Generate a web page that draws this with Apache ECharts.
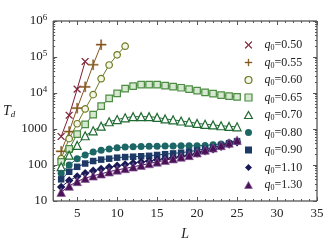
<!DOCTYPE html>
<html>
<head>
<meta charset="utf-8">
<script src="https://cdn.jsdelivr.net/npm/echarts@6/dist/echarts.min.js"></script>
<style>
html,body{margin:0;padding:0;background:#fff;}
#c{width:334px;height:246px;}
</style>
</head>
<body>
<div id="c"></div>
<script>
// ---- data ----
const L_050 = [3, 4, 5, 6];
const L_055 = [3, 4, 5, 6, 7, 8];
const L_060 = [3, 4, 5, 6, 7, 8, 9, 10, 11];
const L_full = [3, 4, 5, 6, 7, 8, 9, 10, 11, 12, 13, 14, 15, 16, 17, 18, 19, 20, 21, 22, 23, 24, 25];

const q050 = [620, 2400, 12800, 75000];
const q055 = [240, 850, 3800, 14800, 61000, 220000];
const q060 = [150, 540, 1400, 3600, 9000, 25000, 60000, 115000, 200000];
const q065 = [122, 280, 720, 1350, 2500, 4300, 7100, 9800, 13300, 15500, 17000, 17000, 17000, 16000, 15000, 14000, 12800, 11700, 10400, 9600, 8700, 8200, 7800];
const q070 = [90, 187, 350, 650, 890, 1200, 1590, 1830, 2050, 2200, 2200, 2200, 2100, 1900, 1800, 1670, 1560, 1430, 1350, 1300, 1230, 1180, 1150];
const q080 = [59, 100, 150, 190, 230, 255, 280, 300, 315, 320, 325, 330, 330, 335, 335, 340, 340, 345, 350, 365, 385, 415, 460];
const q090 = [40, 65, 89, 110, 129, 141, 150, 160, 166, 170, 175, 180, 190, 200, 210, 220, 235, 255, 280, 310, 350, 400, 460];
const q110 = [24.5, 37, 48, 59, 69, 77, 86, 95, 103, 114, 122, 130, 141, 150, 160, 172, 188, 210, 240, 275, 320, 370, 430];
const q130 = [17.6, 26, 35, 43, 50, 57, 65, 73, 80, 89, 99, 110, 122, 135, 150, 167, 185, 220, 260, 300, 350, 410, 490];

const seriesNames = ['0.50', '0.55', '0.60', '0.65', '0.70', '0.80', '0.90', '1.10', '1.30'];
const xTickLabels = [5, 10, 15, 20, 25, 30, 35];

// ---- styling ----
const crossPath = 'path://M0.8,0L5,4.2L9.2,0L10,0.8L5.8,5L10,9.2L9.2,10L5,5.8L0.8,10L0,9.2L4.2,5L0,0.8Z';
const plusPath = 'path://M4.4,0L5.6,0L5.6,4.4L10,4.4L10,5.6L5.6,5.6L5.6,10L4.4,10L4.4,5.6L0,5.6L0,4.4L4.4,4.4Z';
const rectPath = 'path://M0,0L10,0L10,10L0,10Z';
const triPath = 'path://M5,0L10,9L0,9Z';
const diaPath = 'path://M5,0L10,5L5,10L0,5Z';

const styles = [
  {xs: L_050, ys: q050, symbol: crossPath, icon: crossPath, size: 7, line: '#7a1f35', fill: '#7a1f35', border: '#7a1f35', bw: 0.6},
  {xs: L_055, ys: q055, symbol: plusPath, icon: plusPath, size: 10, line: '#84561e', fill: '#84561e', border: '#84561e', bw: 0.4},
  {xs: L_060, ys: q060, symbol: 'circle', icon: 'circle', size: 6.5, line: '#6b7a22', fill: '#f4f6e6', border: '#6b7a22', bw: 1.2},
  {xs: L_full, ys: q065, symbol: 'rect', icon: rectPath, size: 6.5, line: '#3d7634', fill: '#d6e8cf', border: '#4c8d43', bw: 1.2},
  {xs: L_full, ys: q070, symbol: 'triangle', icon: triPath, size: 8, line: '#1f6a32', fill: '#ffffff', border: '#1f6a32', bw: 1.2},
  {xs: L_full, ys: q080, symbol: 'circle', icon: 'circle', size: 7, line: '#1c6666', fill: '#1c6666', border: '#1c6666', bw: 0},
  {xs: L_full, ys: q090, symbol: 'rect', icon: rectPath, size: 6.5, line: '#1d3a66', fill: '#1d3a66', border: '#1d3a66', bw: 0},
  {xs: L_full, ys: q110, symbol: 'diamond', icon: diaPath, size: 8.5, line: '#1b1a58', fill: '#1b1a58', border: '#1b1a58', bw: 0},
  {xs: L_full, ys: q130, symbol: 'triangle', icon: triPath, size: 8.5, line: '#4a1157', fill: '#4a1157', border: '#8a5c9a', bw: 0.7}
];

const series = styles.map((s, i) => ({
  name: seriesNames[i],
  type: 'line',
  data: s.xs.map((x, j) => [x, s.ys[j]]),
  symbol: s.symbol,
  symbolSize: s.size,
  symbolKeepAspect: true,
  showAllSymbol: true,
  lineStyle: {color: s.line, width: 1},
  itemStyle: {color: s.fill, borderColor: s.border, borderWidth: s.bw, opacity: 1},
  emphasis: {disabled: true},
  animation: false,
  z: 2 + i
}));

const legendData = seriesNames.map((n, i) => ({
  name: n,
  icon: styles[i].icon,
  itemStyle: {color: styles[i].fill, borderColor: styles[i].border, borderWidth: styles[i].bw}
}));

const serif = '"Liberation Serif", "DejaVu Serif", serif';
const tickColor = '#555';

const option = {
  animation: false,
  grid: {left: 53, right: 17, top: 21, bottom: 41, show: true, borderColor: '#222', borderWidth: 1, backgroundColor: 'transparent'},
  legend: {
    orient: 'vertical',
    left: 239,
    top: 33,
    itemWidth: 22,
    itemHeight: 7,
    itemGap: 3.5,
    selectedMode: false,
    symbolKeepAspect: true,
    formatter: name => '{q|q}{s|0}{t|=' + name + '}',
    textStyle: {
      fontFamily: serif, fontSize: 12, color: '#222', lineHeight: 14,
      rich: {
        q: {fontFamily: serif, fontStyle: 'italic', fontSize: 12, lineHeight: 14, color: '#222'},
        s: {fontFamily: serif, fontSize: 8, lineHeight: 14, verticalAlign: 'bottom', padding: [4, 0, 0, 0], color: '#222'},
        t: {fontFamily: serif, fontSize: 12, lineHeight: 14, color: '#222'}
      }
    },
    data: legendData
  },
  xAxis: [
    {
      type: 'value', min: 2, max: 35, splitNumber: 6, position: 'bottom',
      name: 'L', nameLocation: 'middle', nameGap: 26,
      nameTextStyle: {fontFamily: serif, fontStyle: 'italic', fontSize: 14, color: '#222'},
      axisLine: {show: false, onZero: false},
      axisTick: {show: true, inside: true, length: 4, lineStyle: {color: tickColor}},
      axisLabel: {fontFamily: serif, fontSize: 13, color: '#222', margin: 6, showMinLabel: false,
        formatter: v => (xTickLabels.indexOf(v) >= 0 ? String(v) : '')},
      splitLine: {show: false}
    },
    {
      type: 'value', min: 2, max: 35, interval: 1, position: 'bottom',
      axisLine: {show: false, onZero: false},
      axisTick: {show: true, inside: true, length: 2, lineStyle: {color: tickColor}},
      axisLabel: {show: false}, splitLine: {show: false}
    },
    {
      type: 'value', min: 2, max: 35, splitNumber: 6, position: 'top',
      axisLine: {show: false, onZero: false},
      axisTick: {show: true, inside: true, length: 4, lineStyle: {color: tickColor}},
      axisLabel: {show: false}, splitLine: {show: false}
    },
    {
      type: 'value', min: 2, max: 35, interval: 1, position: 'top',
      axisLine: {show: false, onZero: false},
      axisTick: {show: true, inside: true, length: 2, lineStyle: {color: tickColor}},
      axisLabel: {show: false}, splitLine: {show: false}
    }
  ],
  yAxis: [
    {
      type: 'log', min: 10, max: 1000000, logBase: 10, position: 'left',
      name: '{t|T}{d|d}', nameLocation: 'middle', nameRotate: 0, nameGap: 34,
      nameTextStyle: {
        rich: {
          t: {fontFamily: serif, fontStyle: 'italic', fontSize: 14, color: '#222', lineHeight: 16},
          d: {fontFamily: serif, fontStyle: 'italic', fontSize: 9, color: '#222', verticalAlign: 'bottom', padding: [5, 0, 0, 0]}
        }
      },
      axisLine: {show: false, onZero: false},
      axisTick: {show: true, inside: true, length: 4, lineStyle: {color: tickColor}},
      minorTick: {show: true, splitNumber: 9, length: 2, lineStyle: {color: tickColor}},
      axisLabel: {
        fontFamily: serif, fontSize: 13, color: '#222', margin: 6,
        formatter: v => {
          const e = Math.round(Math.log10(v));
          if (e >= 4) return '{b|10}{p|' + e + '}';
          return String(Math.round(v));
        },
        rich: {
          b: {fontFamily: serif, fontSize: 13, color: '#222', lineHeight: 16},
          p: {fontFamily: serif, fontSize: 9, color: '#222', verticalAlign: 'top', padding: [0, 0, 7, 0]}
        }
      },
      splitLine: {show: false}
    },
    {
      type: 'log', min: 10, max: 1000000, logBase: 10, position: 'right',
      axisLine: {show: false, onZero: false},
      axisTick: {show: true, inside: true, length: 4, lineStyle: {color: tickColor}},
      minorTick: {show: true, splitNumber: 9, length: 2, lineStyle: {color: tickColor}},
      axisLabel: {show: false}, splitLine: {show: false}
    }
  ],
  series: series
};

const chart = echarts.init(document.getElementById('c'), null, {renderer: 'canvas'});
chart.setOption(option);
</script>
</body>
</html>
